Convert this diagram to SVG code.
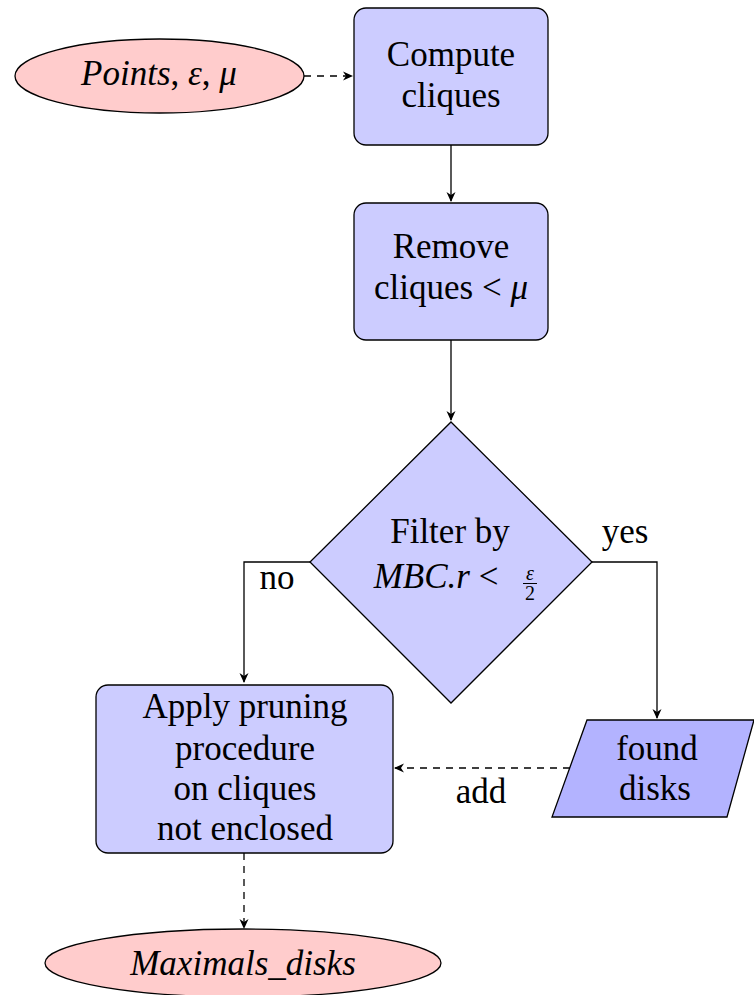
<svg xmlns="http://www.w3.org/2000/svg" xmlns:xlink="http://www.w3.org/1999/xlink" width="754" height="995" viewBox="0 0 754 995">
<style>
.t{font-family:'Liberation Serif','DejaVu Serif','Noto Serif',serif;font-size:35px;fill:#000;text-anchor:middle}
.i{font-style:italic}
.box{fill:#ccccff;stroke:#000;stroke-width:1.3}
.ell{fill:#ffcccc;stroke:#000;stroke-width:1.3}
.io{fill:#b3b3ff;stroke:#000;stroke-width:1.3}
.c{fill:none;stroke:#000;stroke-width:1.3}
.d{stroke-dasharray:7 6}
.s{font-size:20px}
</style>
<defs>
<path id="ah" d="M0,0 L-10,-4.5 L-7,0 L-10,4.5 Z" fill="#000"/>
</defs>

<g id="connectors">
<path class="c d" d="M304,76 H352"/>
<use href="#ah" xlink:href="#ah" transform="translate(353,76)"/>
<path class="c" d="M451,145 V201"/>
<use href="#ah" xlink:href="#ah" transform="translate(451,202) rotate(90)"/>
<path class="c" d="M451,340 V420"/>
<use href="#ah" xlink:href="#ah" transform="translate(451,421) rotate(90)"/>
<path class="c" d="M310,562 H244 V682"/>
<use href="#ah" xlink:href="#ah" transform="translate(244,683) rotate(90)"/>
<path class="c" d="M592,562 H657 V718"/>
<use href="#ah" xlink:href="#ah" transform="translate(657,719) rotate(90)"/>
<path class="c d" d="M570,768 H395"/>
<use href="#ah" xlink:href="#ah" transform="translate(394,768) rotate(180)"/>
<path class="c d" d="M244,853 V928"/>
<use href="#ah" xlink:href="#ah" transform="translate(244,929) rotate(90)"/>
<text class="t" font-family="Liberation Serif" x="277" y="589">no</text>
<text class="t" font-family="Liberation Serif" x="625" y="543">yes</text>
<text class="t" font-family="Liberation Serif" x="481" y="803">add</text>
</g>

<g id="points">
<ellipse class="ell" cx="159.5" cy="76" rx="144.5" ry="37"/>
<text class="t" font-family="Liberation Serif" x="159" y="85"><tspan class="i">Points</tspan>, <tspan class="i">ε</tspan>, <tspan class="i">μ</tspan></text>
</g>

<g id="compute">
<rect class="box" x="354" y="8" width="194" height="137" rx="12"/>
<text class="t" font-family="Liberation Serif" x="451" y="66">Compute</text>
<text class="t" font-family="Liberation Serif" x="451" y="107">cliques</text>
</g>

<g id="remove">
<rect class="box" x="354" y="203" width="194" height="137" rx="12"/>
<text class="t" font-family="Liberation Serif" x="451" y="258">Remove</text>
<text class="t" font-family="Liberation Serif" x="451" y="299">cliques &lt; <tspan class="i">μ</tspan></text>
</g>

<g id="filter">
<polygon class="box" points="451,422 592,562 451,703 310,562"/>
<text class="t" font-family="Liberation Serif" x="450" y="543">Filter by</text>
<text class="t" font-family="Liberation Serif" x="436" y="588"><tspan class="i">MBC.r</tspan> &lt;</text>
<text class="t i s" font-family="Liberation Serif" x="530" y="580">ε</text>
<line x1="523" y1="583.5" x2="537" y2="583.5" stroke="#000" stroke-width="1"/>
<text class="t s" font-family="Liberation Serif" x="530" y="600">2</text>
</g>

<g id="found">
<polygon class="io" points="587,720 754,720 727,817 552,817"/>
<text class="t" font-family="Liberation Serif" x="657" y="760">found</text>
<text class="t" font-family="Liberation Serif" x="655" y="800">disks</text>
</g>

<g id="apply">
<rect class="box" x="96" y="685" width="297" height="168" rx="12"/>
<text class="t" font-family="Liberation Serif" x="245" y="718">Apply pruning</text>
<text class="t" font-family="Liberation Serif" x="245" y="760">procedure</text>
<text class="t" font-family="Liberation Serif" x="245" y="800">on cliques</text>
<text class="t" font-family="Liberation Serif" x="245" y="840">not enclosed</text>
</g>

<g id="maximals">
<ellipse class="ell" cx="243" cy="963" rx="198" ry="34"/>
<text class="t i" font-family="Liberation Serif" x="243" y="975">Maximals_disks</text>
</g>
</svg>
